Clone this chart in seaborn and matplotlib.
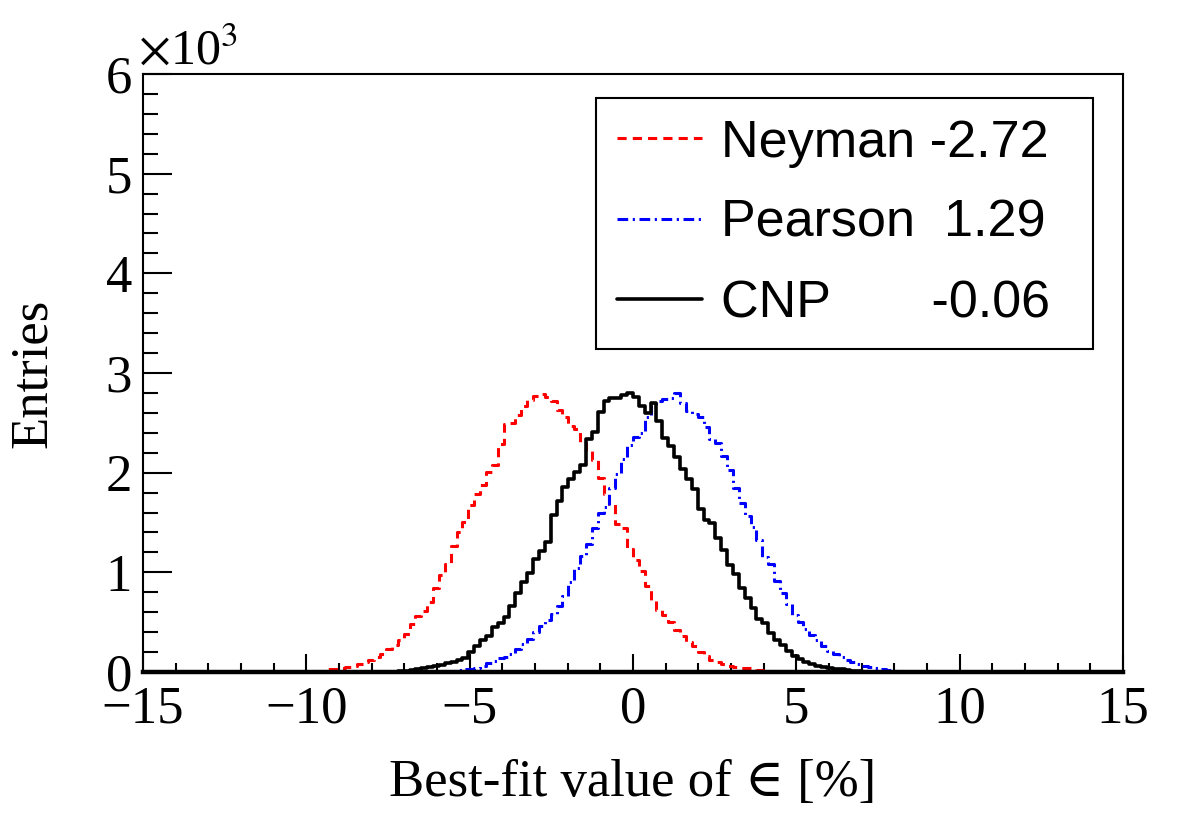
import numpy as np
import seaborn as sns
import matplotlib.pyplot as plt
from matplotlib.lines import Line2D
from matplotlib.ticker import MultipleLocator, FuncFormatter

# histogram layout: all three share the same bin width
bin_width = 0.18

# Neyman chi2 fit results (entries per bin), first edge at -9.72
neyman_start = -9.72
neyman_counts = [5, 10, 25, 30, 40, 55, 65, 85, 105, 120,
                 155, 185, 235, 270, 320, 380, 480, 560, 610, 700,
                 840, 970, 1080, 1260, 1400, 1500, 1680, 1790, 1880, 2010,
                 2080, 2290, 2490, 2500, 2580, 2670, 2730, 2770, 2790, 2760,
                 2720, 2630, 2560, 2470, 2440, 2300, 2220, 2130, 1950, 1790,
                 1690, 1480, 1440, 1230, 1120, 1010, 860, 720, 620, 570,
                 500, 420, 360, 300, 260, 200, 160, 125, 100, 80,
                 60, 55, 45, 40, 30, 20, 18, 12, 8, 6,
                 4, 2]

# Pearson chi2 fit results, first edge at -5.76
pearson_start = -5.76
pearson_counts = [5, 10, 15, 25, 30, 45, 60, 90, 115, 140,
                  155, 180, 230, 280, 330, 400, 465, 520, 580, 660,
                  760, 900, 1040, 1160, 1280, 1440, 1600, 1660, 1850, 1990,
                  2140, 2280, 2360, 2400, 2560, 2680, 2720, 2740, 2750, 2800,
                  2700, 2620, 2590, 2560, 2460, 2340, 2300, 2170, 2030, 1850,
                  1700, 1570, 1450, 1320, 1150, 1080, 910, 790, 680, 575,
                  500, 430, 370, 320, 260, 215, 185, 150, 120, 100,
                  80, 65, 50, 40, 30, 20, 12, 6]

# CNP chi2 fit results, first edge at -7.2
cnp_start = -7.2
cnp_counts = [5, 10, 20, 30, 40, 55, 65, 75, 90, 105,
              120, 140, 200, 260, 320, 360, 450, 495, 550, 660,
              790, 900, 990, 1130, 1210, 1300, 1580, 1720, 1860, 1940,
              2010, 2080, 2340, 2410, 2610, 2720, 2750, 2750, 2780, 2800,
              2760, 2670, 2600, 2700, 2520, 2350, 2270, 2160, 2040, 1940,
              1840, 1640, 1520, 1490, 1340, 1220, 1070, 980, 840, 740,
              640, 530, 490, 390, 320, 270, 210, 160, 130, 100,
              85, 65, 55, 40, 30, 25, 18, 12, 8, 4]

legend_labels = ["Neyman -2.72", "Pearson  1.29", "CNP       -0.06"]

sns.set_style("ticks")
plt.rcParams['font.family'] = ['Liberation Serif', 'DejaVu Serif']
plt.rcParams['mathtext.fontset'] = 'stix'
# plain black everywhere, like ROOT
for key in ['text.color', 'axes.labelcolor', 'xtick.color', 'ytick.color', 'axes.edgecolor']:
    plt.rcParams[key] = 'black'

fig = plt.figure(figsize=(11.82, 8.21), dpi=100)
ax = fig.add_axes([0.121, 0.1815, 0.829, 0.7284])

styles = [
    (neyman_start, neyman_counts, "#ff0000", (0, (3, 2)), 2.2),
    (pearson_start, pearson_counts, "#0000ff", (0, (3.5, 1.5, 0.7, 1.5)), 2.2),
    (cnp_start, cnp_counts, "black", "-", 2.6),
]

handles = []
for start, counts, color, ls, lw in styles:
    edges = start + bin_width * np.arange(len(counts) + 1)
    centers = edges[:-1] + bin_width / 2
    sns.histplot(x=centers, weights=counts, bins=edges.tolist(), element="step",
                 fill=False, color=color, linestyle=ls, linewidth=lw, ax=ax)
    handles.append(Line2D([], [], color=color, linestyle=ls, linewidth=lw))

ax.set_xlim(-15, 15)
ax.set_ylim(0, 6000)

# ROOT-like frame and ticks
for side in ['top', 'right', 'left']:
    ax.spines[side].set_visible(True)
    ax.spines[side].set_linewidth(1.5)
ax.spines['bottom'].set_linewidth(3.2)

ax.xaxis.set_major_locator(MultipleLocator(5))
ax.xaxis.set_minor_locator(MultipleLocator(1))
ax.yaxis.set_major_locator(MultipleLocator(1000))
ax.yaxis.set_minor_locator(MultipleLocator(200))
ax.yaxis.set_major_formatter(FuncFormatter(lambda v, p: f"{v/1000:g}"))

ax.tick_params(axis='x', which='major', direction='in', length=13, width=1.5,
               labelsize=38, pad=10, top=False)
ax.tick_params(axis='x', which='minor', direction='in', length=6.5, width=1.5, top=False)
ax.tick_params(axis='y', which='major', direction='in', length=21, width=1.5,
               labelsize=38, pad=8, right=False)
ax.tick_params(axis='y', which='minor', direction='in', length=10.5, width=1.5, right=False)
for lab in ax.get_yticklabels():
    lab.set_verticalalignment('center_baseline')

ax.set_xlabel("Best-fit value of \u2208 [%]", fontsize=38)
ax.xaxis.set_label_coords(0.5, -0.145)
ax.set_ylabel("Entries", fontsize=38)
ax.yaxis.set_label_coords(-0.088, 0.5)

fig.text(138 / 1182, 1 - 64 / 821, r"$\times$10$^{3}$", fontsize=36, va='baseline')

leg = ax.legend(handles, legend_labels, loc='upper left',
                bbox_to_anchor=(0.462, 0.547, 0.507, 0.413), mode='expand',
                prop={'family': ['Liberation Sans', 'DejaVu Sans'], 'size': 37.5},
                frameon=True, fancybox=False, framealpha=1, edgecolor='black',
                handlelength=1.65, handletextpad=0.35, labelspacing=0.6,
                borderpad=0.4, borderaxespad=0)
leg.get_frame().set_linewidth(1.5)

fig.savefig("out.png", dpi=100)
